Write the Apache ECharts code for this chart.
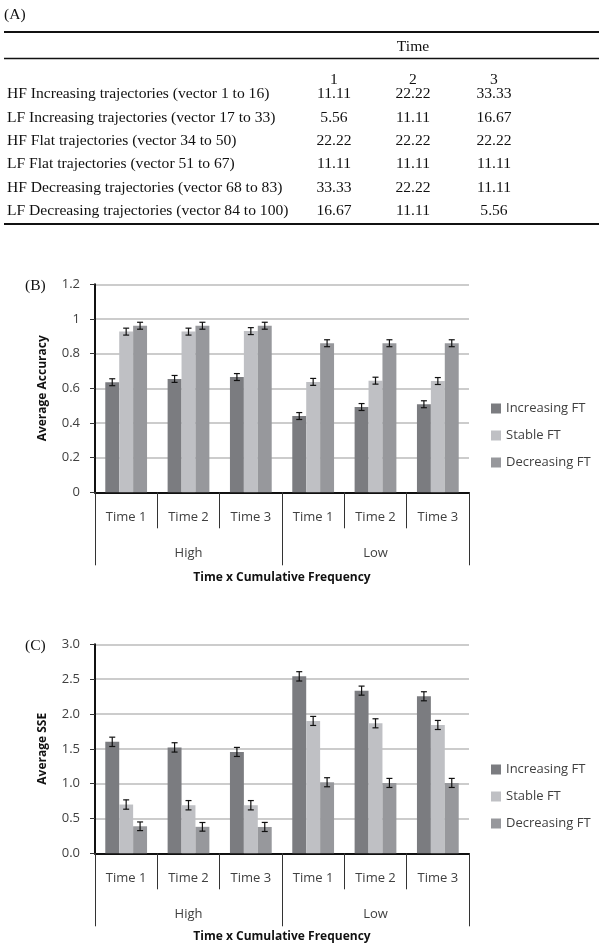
<!DOCTYPE html>
<html>
<head>
<meta charset="utf-8">
<script src="https://cdn.jsdelivr.net/npm/echarts@6/dist/echarts.min.js"></script>
<style>
html,body{margin:0;padding:0;background:#fff;}
#main{width:599px;height:945px;}
</style>
</head>
<body>
<div id="main"></div>
<script>
// ---------- Data ----------
// Table (A)
const tableTimeHeaders = ['1', '2', '3'];
const tableRowLabels = [
  'HF Increasing trajectories (vector 1 to 16)',
  'LF Increasing trajectories (vector 17 to 33)',
  'HF Flat trajectories (vector 34 to 50)',
  'LF Flat trajectories (vector 51 to 67)',
  'HF Decreasing trajectories (vector 68 to 83)',
  'LF Decreasing trajectories (vector 84 to 100)'
];
const tableTime1 = ['11.11', '5.56', '22.22', '11.11', '33.33', '16.67'];
const tableTime2 = ['22.22', '11.11', '22.22', '11.11', '22.22', '11.11'];
const tableTime3 = ['33.33', '16.67', '22.22', '11.11', '11.11', '5.56'];

// Charts (B) and (C)
const timeLabels = ['Time 1', 'Time 2', 'Time 3', 'Time 1', 'Time 2', 'Time 3'];
const groupLabels = ['High', 'Low'];
const seriesNames = ['Increasing FT', 'Stable FT', 'Decreasing FT'];

const accIncreasing = [0.635, 0.654, 0.665, 0.44, 0.492, 0.508];
const accStable     = [0.927, 0.927, 0.930, 0.637, 0.644, 0.642];
const accDecreasing = [0.961, 0.961, 0.961, 0.86, 0.86, 0.86];
const accErrIncreasing = [0.02, 0.02, 0.02, 0.02, 0.02, 0.02];
const accErrStable     = [0.02, 0.02, 0.02, 0.02, 0.02, 0.02];
const accErrDecreasing = [0.02, 0.02, 0.02, 0.02, 0.02, 0.02];

const sseIncreasing = [1.60, 1.52, 1.455, 2.54, 2.335, 2.254];
const sseStable     = [0.70, 0.69, 0.69, 1.90, 1.866, 1.842];
const sseDecreasing = [0.388, 0.38, 0.378, 1.02, 1.01, 1.01];
const sseErrIncreasing = [0.067, 0.067, 0.065, 0.067, 0.065, 0.065];
const sseErrStable     = [0.067, 0.067, 0.067, 0.065, 0.065, 0.065];
const sseErrDecreasing = [0.062, 0.062, 0.065, 0.065, 0.065, 0.065];

// ---------- Styles ----------
const colors = ['#7b7c80', '#bfc0c4', '#97989c'];
const sansFont = '"Open Sans", sans-serif';
const serifFont = '"Liberation Serif", "Times New Roman", serif';
const labelColor = '#404040';
const CAT_GAP = 0.33;

const chart = echarts.init(document.getElementById('main'), null, {renderer: 'canvas'});

// ---------- Table graphics ----------
const graphics = [];
const tFont = '15.6px ' + serifFont;
function tText(x, y, text, align) {
  graphics.push({type: 'text', x: x, y: y, silent: true,
    style: {text: text, font: tFont, fill: '#111', align: align || 'left', verticalAlign: 'middle'}});
}
function tLine(y, w) {
  graphics.push({type: 'line', silent: true, shape: {x1: 4, y1: y, x2: 599, y2: y},
    style: {stroke: '#111', lineWidth: w}});
}
tText(4, 15, '(A)');
tLine(32, 2);
tText(413, 47, 'Time', 'center');
tLine(58.5, 1.6);
const colX = [334, 413, 494];
tableTimeHeaders.forEach((h, i) => tText(colX[i], 80, h, 'center'));
tableRowLabels.forEach((lab, r) => {
  const y = 94.3 + r * 23.3;
  tText(7, y, lab);
  tText(colX[0], y, tableTime1[r], 'center');
  tText(colX[1], y, tableTime2[r], 'center');
  tText(colX[2], y, tableTime3[r], 'center');
});
tLine(224, 1.8);
tText(25, 286, '(B)');
tText(25, 646, '(C)');

// ---------- Axes builders ----------
const grids = [
  {left: 95, right: 130, top: 284.3, height: 208},
  {left: 95, right: 130, top: 644.3, height: 209}
];

function xAxesFor(gi) {
  return [
    {
      gridIndex: gi, type: 'category', data: timeLabels, position: 'bottom',
      axisLine: {show: true, lineStyle: {color: '#111', width: 2}},
      axisTick: {show: true, interval: 0, length: 36, lineStyle: {color: '#333', width: 1}},
      axisLabel: {interval: 0, margin: 18, fontSize: 13, fontFamily: sansFont, color: labelColor},
      splitLine: {show: false},
      name: 'Time x Cumulative Frequency', nameLocation: 'middle', nameGap: gi === 0 ? 79 : 77,
      nameTextStyle: {fontSize: 12, fontWeight: 'bold', fontFamily: sansFont, color: '#111'}
    },
    {
      gridIndex: gi, type: 'category', data: groupLabels, position: 'bottom',
      axisLine: {show: false},
      axisTick: {show: true, interval: 0, length: 73, lineStyle: {color: '#333', width: 1}},
      axisLabel: {interval: 0, margin: 54, fontSize: 13, fontFamily: sansFont, color: labelColor},
      splitLine: {show: false}
    }
  ];
}

function yAxisFor(gi, max, name, fmt) {
  return {
    gridIndex: gi, type: 'value', min: 0, max: max, interval: gi === 0 ? 0.2 : 0.5,
    axisLine: {show: true, lineStyle: {color: '#111', width: 2}},
    axisTick: {show: true, length: 5, lineStyle: {color: '#333', width: 1}},
    axisLabel: {margin: 15, fontSize: 13, fontFamily: sansFont, color: labelColor, formatter: fmt},
    splitLine: {show: true, lineStyle: {color: '#bbbbbb', width: 1.5}},
    name: name, nameLocation: 'middle', nameGap: 46,
    nameTextStyle: {fontSize: 12, fontWeight: 'bold', fontFamily: sansFont, color: '#111'}
  };
}

// ---------- Series builders ----------
function barSeries(gi, k, values) {
  return {
    name: seriesNames[k], type: 'bar', xAxisIndex: gi * 2, yAxisIndex: gi,
    data: values, barGap: '0%', barCategoryGap: (CAT_GAP * 100) + '%',
    itemStyle: {color: colors[k]}, emphasis: {disabled: true}, z: 2
  };
}
function errSeries(gi, k, values, errs) {
  return {
    type: 'custom', xAxisIndex: gi * 2, yAxisIndex: gi, z: 5, silent: true,
    encode: {x: 0, y: 1},
    data: values.map((v, i) => [i, v, errs[i]]),
    renderItem: function (params, api) {
      const cat = api.value(0), v = api.value(1), e = api.value(2);
      const catW = api.size([1, 0])[0];
      const barW = catW * (1 - CAT_GAP) / 3;
      const off = (k - 1) * barW;
      const top = api.coord([cat, v + e]);
      const bot = api.coord([cat, v - e]);
      const x = top[0] + off;
      const cap = 3;
      const st = {stroke: '#111', lineWidth: 1.2};
      return {type: 'group', children: [
        {type: 'line', shape: {x1: x, y1: top[1], x2: x, y2: bot[1]}, style: st},
        {type: 'line', shape: {x1: x - cap, y1: top[1], x2: x + cap, y2: top[1]}, style: st},
        {type: 'line', shape: {x1: x - cap, y1: bot[1], x2: x + cap, y2: bot[1]}, style: st}
      ]};
    }
  };
}

const legendBase = {
  orient: 'vertical', left: 491, itemWidth: 10, itemHeight: 10, itemGap: 14, padding: 0,
  icon: 'rect', data: seriesNames, selectedMode: false,
  textStyle: {fontSize: 13, fontFamily: sansFont, color: labelColor, lineHeight: 13}
};

const option = {
  animation: false,
  backgroundColor: '#ffffff',
  graphic: graphics,
  grid: grids,
  legend: [
    Object.assign({}, legendBase, {top: 402}),
    Object.assign({}, legendBase, {top: 763})
  ],
  xAxis: xAxesFor(0).concat(xAxesFor(1)),
  yAxis: [
    yAxisFor(0, 1.2, 'Average Accuracy', v => String(Math.round(v * 10) / 10)),
    yAxisFor(1, 3.0, 'Average SSE', v => v.toFixed(1))
  ],
  series: [
    barSeries(0, 0, accIncreasing), barSeries(0, 1, accStable), barSeries(0, 2, accDecreasing),
    errSeries(0, 0, accIncreasing, accErrIncreasing),
    errSeries(0, 1, accStable, accErrStable),
    errSeries(0, 2, accDecreasing, accErrDecreasing),
    barSeries(1, 0, sseIncreasing), barSeries(1, 1, sseStable), barSeries(1, 2, sseDecreasing),
    errSeries(1, 0, sseIncreasing, sseErrIncreasing),
    errSeries(1, 1, sseStable, sseErrStable),
    errSeries(1, 2, sseDecreasing, sseErrDecreasing)
  ]
};
chart.setOption(option);
</script>
</body>
</html>
